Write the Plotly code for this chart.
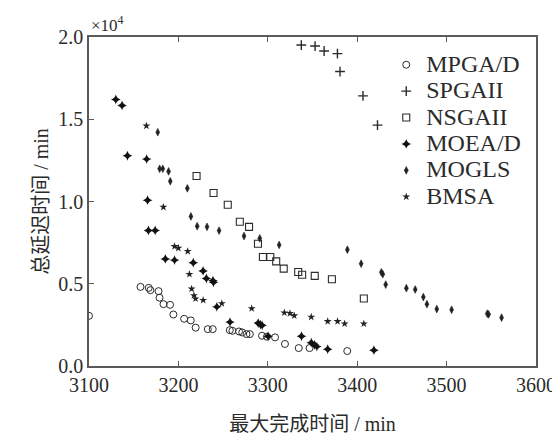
import plotly.graph_objects as go

# Makespan (min) and total tardiness (x10^4 min) for each algorithm
mpga_x = [3100, 3157.6, 3166.8, 3168.7, 3177.8, 3178.9, 3183.3, 3190.7, 3194.4, 3206.4, 3213.8, 3219.3,
          3232.9, 3238.4, 3257.5, 3260.4, 3267.8, 3271.4, 3276.2, 3279.9, 3293.5, 3299.0, 3308.1, 3319.2,
          3334.6, 3346.7, 3388.9]
mpga_y = [0.305, 0.481, 0.475, 0.461, 0.455, 0.415, 0.376, 0.372, 0.313, 0.287, 0.277, 0.233,
          0.224, 0.224, 0.218, 0.214, 0.210, 0.204, 0.194, 0.194, 0.184, 0.178, 0.174, 0.134,
          0.109, 0.109, 0.091]

spga_x = [3337.5, 3352.9, 3363.0, 3377.9, 3380.8, 3406.5, 3422.7]
spga_y = [1.951, 1.945, 1.915, 1.899, 1.790, 1.642, 1.464]

nsga_x = [3220.3, 3239.3, 3255.2, 3268.7, 3279.0, 3289.0, 3294.5, 3302.8, 3309.4, 3317.8, 3334.0,
          3338.4, 3352.5, 3371.7, 3407.4]
nsga_y = [1.155, 1.052, 0.980, 0.877, 0.846, 0.743, 0.663, 0.663, 0.636, 0.592, 0.571,
          0.555, 0.548, 0.527, 0.410]

moead_x = [3130.0, 3137.0, 3143.0, 3164.5, 3165.5, 3166.5, 3174.0, 3185.4, 3195.7, 3216.6, 3227.6,
           3231.3, 3238.6, 3239.3, 3243.0, 3257.7, 3289.3, 3291.8, 3293.7, 3300.3, 3337.7, 3348.7,
           3352.3, 3354.9, 3367.0, 3418.7]
moead_y = [1.620, 1.584, 1.278, 1.258, 1.008, 0.824, 0.824, 0.651, 0.644, 0.628, 0.578,
           0.532, 0.519, 0.509, 0.360, 0.267, 0.261, 0.251, 0.247, 0.181, 0.181, 0.142,
           0.128, 0.118, 0.102, 0.096]

mogls_x = [3176.9, 3179.0, 3182.5, 3189.0, 3190.9, 3210.0, 3214.0, 3221.0, 3232.0, 3245.5, 3273.4,
           3291.0, 3312.7, 3389.0, 3404.4, 3427.0, 3428.6, 3431.9, 3455.0, 3464.9, 3474.0, 3478.0,
           3489.0, 3505.6, 3545.5, 3547.0, 3561.5]
mogls_y = [1.421, 1.199, 1.199, 1.183, 1.123, 1.080, 0.909, 0.850, 0.846, 0.823, 0.790,
           0.776, 0.736, 0.707, 0.622, 0.570, 0.558, 0.495, 0.473, 0.465, 0.419, 0.376,
           0.346, 0.342, 0.318, 0.314, 0.294]

bmsa_x = [3164.2, 3183.2, 3195.7, 3200.0, 3210.4, 3212.3, 3214.8, 3217.4, 3219.2, 3227.7, 3248.6,
          3282.0, 3318.5, 3324.8, 3329.6, 3348.6, 3367.0, 3378.0, 3386.0, 3407.4]
bmsa_y = [1.460, 0.966, 0.727, 0.717, 0.697, 0.558, 0.469, 0.429, 0.409, 0.400, 0.380,
          0.350, 0.324, 0.320, 0.306, 0.298, 0.271, 0.271, 0.257, 0.257]

x_ticks = [3100, 3200, 3300, 3400, 3500, 3600]
y_ticks = [0.0, 0.5, 1.0, 1.5, 2.0]

INK = "#2b2b2b"
AX = "#5a5a5a"
FONT = "Liberation Serif, Noto Sans CJK SC, serif"


def lg(name):
    return '<span style="font-size:24px">' + name + '</span>'


fig = go.Figure()
fig.add_trace(go.Scatter(x=mpga_x, y=mpga_y, mode="markers", name=lg("MPGA/D"),
                         marker=dict(symbol="circle-open", size=7, color=INK, line=dict(width=1.0, color=INK))))
fig.add_trace(go.Scatter(x=spga_x, y=spga_y, mode="markers", name=lg("SPGAII"),
                         marker=dict(symbol="cross-thin", size=7, color=INK, line=dict(width=1.4, color=INK))))
fig.add_trace(go.Scatter(x=nsga_x, y=nsga_y, mode="markers", name=lg("NSGAII"),
                         marker=dict(symbol="square-open", size=7, color=INK, line=dict(width=1.1, color=INK))))
fig.add_trace(go.Scatter(x=moead_x, y=moead_y, mode="markers", name=lg("MOEA/D"),
                         marker=dict(symbol="star-diamond", size=7, color="#111111", line=dict(width=0))))
fig.add_trace(go.Scatter(x=mogls_x, y=mogls_y, mode="markers", name=lg("MOGLS"),
                         marker=dict(symbol="diamond-tall", size=5.5, color="#222222", line=dict(width=0.6, color="#222222"))))
fig.add_trace(go.Scatter(x=bmsa_x, y=bmsa_y, mode="markers", name=lg("BMSA"),
                         marker=dict(symbol="star", size=6, color="#222222", line=dict(width=0))))

fig.update_layout(
    width=560, height=436,
    margin=dict(l=81, r=25, t=29, b=70),
    paper_bgcolor="white", plot_bgcolor="white",
    font=dict(family=FONT, size=20, color=INK),
    showlegend=True,
    legend=dict(x=0.665, y=0.971, xanchor="left", yanchor="top",
                bgcolor="rgba(0,0,0,0)", borderwidth=0,
                font=dict(family=FONT, size=18, color=INK), itemwidth=30),
    xaxis=dict(range=[3100, 3600], tickvals=x_ticks, ticktext=[str(v) for v in x_ticks],
               showgrid=False, zeroline=False, showline=True, linecolor=AX, linewidth=1.5,
               mirror="ticks", ticks="inside", ticklen=5, tickcolor=AX, tickwidth=1.2,
               tickfont=dict(family=FONT, size=20, color=INK),
               title=dict(text="最大完成时间 / min", font=dict(family=FONT, size=20, color=INK), standoff=22)),
    yaxis=dict(range=[0, 2.0], tickvals=y_ticks, ticktext=["%.1f" % v for v in y_ticks],
               showgrid=False, zeroline=False, showline=True, linecolor=AX, linewidth=1.5,
               mirror=True, ticks="inside", ticklen=5, tickcolor=AX, tickwidth=1.2,
               tickfont=dict(family=FONT, size=20, color=INK),
               title=dict(text="总延迟时间 / min", font=dict(family=FONT, size=20, color=INK), standoff=4)),
    annotations=[dict(text="×10<sup>4</sup>", xref="paper", yref="paper", x=0.0, y=1.0,
                      xanchor="left", yanchor="bottom", showarrow=False, yshift=0,
                      font=dict(family=FONT, size=17, color=INK))],
)

fig.write_html("out.html")
